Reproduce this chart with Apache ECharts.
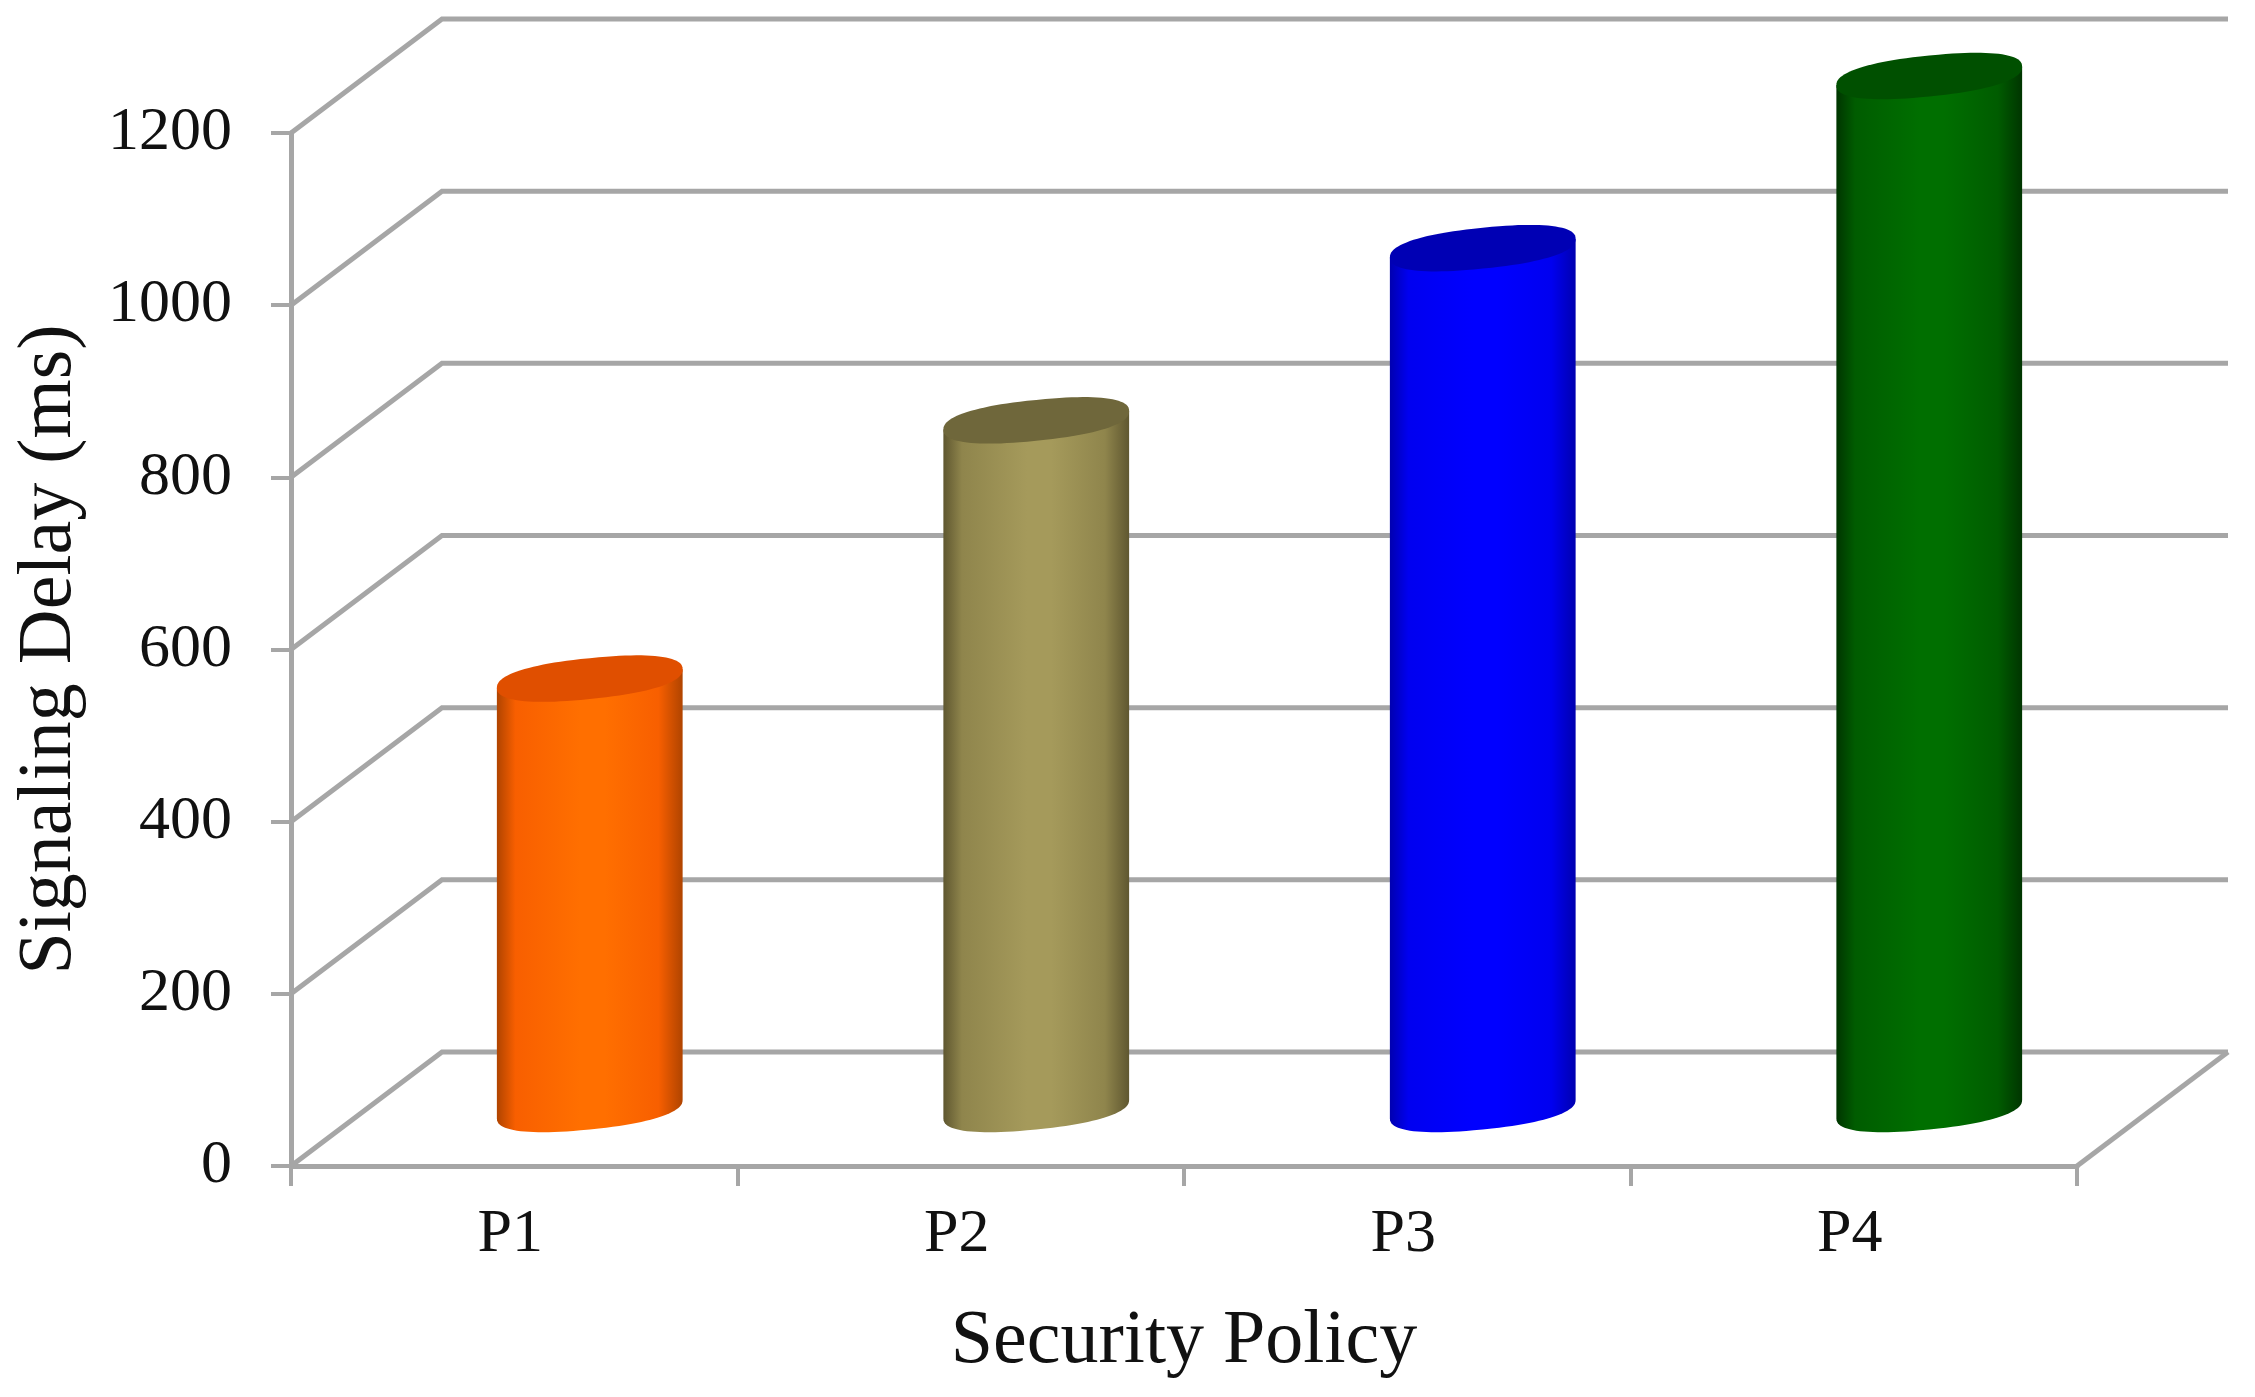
<!DOCTYPE html>
<html>
<head>
<meta charset="utf-8">
<style>html,body{margin:0;padding:0;background:#fff}#c{width:2255px;height:1397px}</style>
<script src="https://cdn.jsdelivr.net/npm/echarts@6/dist/echarts.min.js"></script>
</head>
<body>
<div id="c"></div>
<script>
const categories = ['P1', 'P2', 'P3', 'P4'];
const delays = [500, 800, 1000, 1200];
const yTicks = [0, 200, 400, 600, 800, 1000, 1200];
const xTitle = 'Security Policy';
const yTitle = 'Signaling Delay (ms)';

const bright = ['#ff6f00', '#a59a5b', '#0000ff', '#006f00'];
const mid = ['#f85f00', '#8f854c', '#0000f0', '#005c00'];
const edge = ['#b04400', '#5f5730', '#0000b0', '#003500'];
const cap = ['#e04f00', '#6f673b', '#0000b4', '#005000'];

const DX = 151, DY = -114, GREY = '#a6a6a6', LW = 5;
const FONT = '"Liberation Serif","Times New Roman",serif';

const chart = echarts.init(document.getElementById('c'), null, {renderer: 'canvas'});

function frameItem(params, api) {
  const cs = params.coordSys;
  const p = api.coord([0, api.value(0)]);
  const xl = cs.x, xr = cs.x + cs.width, y = p[1];
  const children = [{
    type: 'polyline',
    shape: {points: [[xl, y], [xl + DX, y + DY], [xr + DX, y + DY]]},
    style: {stroke: GREY, lineWidth: LW, fill: null}
  }];
  if (api.value(0) === 0) {
    children.push({
      type: 'line',
      shape: {x1: xr, y1: y, x2: xr + DX, y2: y + DY},
      style: {stroke: GREY, lineWidth: LW}
    });
  }
  return {type: 'group', children};
}

function cylItem(params, api) {
  const i = params.dataIndex;
  const idx = api.value(0);
  const top = api.coord([idx, api.value(1)]);
  const base = api.coord([idx, 0]);
  const a = api.size([1, 0])[0] * 0.208;
  const b = a * 0.22, k = a * 0.1;
  const cx = top[0] + DX / 2;
  const cyT = top[1] + DY / 2, cyB = base[1] + DY / 2;
  const pt = (t, cy) => {
    const c = Math.cos(t), s = Math.sin(t);
    const cc = Math.sign(c) * Math.pow(Math.abs(c), 0.85);
    const ss = Math.sign(s) * Math.pow(Math.abs(s), 0.85);
    return [cx + a * cc, cy + b * ss - k * cc];
  };
  const body = [pt(Math.PI, cyT)];
  for (let n = 0; n <= 48; n++) body.push(pt(Math.PI - Math.PI * n / 48, cyB));
  body.push(pt(0, cyT));
  const capPts = [];
  for (let n = 0; n < 96; n++) capPts.push(pt(2 * Math.PI * n / 96, cyT));
  return {
    type: 'group',
    children: [{
      type: 'polygon',
      shape: {points: body},
      style: {fill: new echarts.graphic.LinearGradient(0, 0, 1, 0, [
        {offset: 0, color: edge[i]},
        {offset: 0.1, color: mid[i]},
        {offset: 0.45, color: bright[i]},
        {offset: 0.58, color: bright[i]},
        {offset: 0.87, color: mid[i]},
        {offset: 1, color: edge[i]}
      ])}
    }, {
      type: 'polygon',
      shape: {points: capPts},
      style: {fill: cap[i]}
    }]
  };
}

chart.setOption({
  animation: false,
  backgroundColor: '#ffffff',
  grid: {left: 291, right: 178, top: 133, bottom: 231, containLabel: false, outerBoundsMode: 'none'},
  xAxis: {
    type: 'category',
    data: categories,
    boundaryGap: true,
    axisLine: {show: true, lineStyle: {color: GREY, width: LW}},
    axisTick: {show: true, length: 20, alignWithLabel: false, lineStyle: {color: GREY, width: 4}},
    axisLabel: {color: '#111111', fontFamily: FONT, fontSize: 62, margin: 38, padding: [0, 8, 0, 0]},
    name: xTitle,
    nameLocation: 'middle',
    nameGap: 138,
    nameTextStyle: {color: '#111111', fontFamily: FONT, fontSize: 76},
    splitLine: {show: false}
  },
  yAxis: {
    type: 'value',
    min: 0,
    max: 1200,
    interval: 200,
    axisLine: {show: true, lineStyle: {color: GREY, width: LW}},
    axisTick: {show: true, length: 20, lineStyle: {color: GREY, width: 4}},
    axisLabel: {color: '#111111', fontFamily: FONT, fontSize: 62, margin: 59, formatter: v => String(v)},
    name: yTitle,
    nameLocation: 'middle',
    nameRotate: 90,
    nameGap: 203,
    nameTextStyle: {color: '#111111', fontFamily: FONT, fontSize: 76},
    splitLine: {show: false}
  },
  series: [{
    type: 'custom',
    name: 'walls',
    coordinateSystem: 'cartesian2d',
    clip: false,
    silent: true,
    z: 1,
    encode: {y: 0},
    data: yTicks.map(v => [v]),
    renderItem: frameItem
  }, {
    type: 'custom',
    name: 'Signaling Delay',
    coordinateSystem: 'cartesian2d',
    clip: false,
    z: 3,
    encode: {x: 0, y: 1},
    data: delays.map((v, i) => [i, v]),
    renderItem: cylItem
  }]
});
</script>
</body>
</html>
